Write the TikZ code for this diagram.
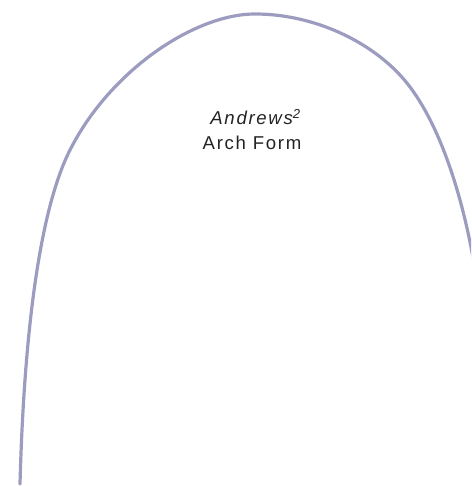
\documentclass[tikz,border=0pt]{standalone}
\usepackage{fontspec}
\setmainfont{Liberation Sans}
\newfontfamily\archfont[LetterSpace=9]{Liberation Sans}
\usetikzlibrary{positioning}
\definecolor{wire}{RGB}{156,156,192}
\definecolor{ink}{RGB}{35,35,35}
\tikzset{
  archwire/.style={draw=wire,line width=3.2pt,line cap=round},
  lbl/.style={font=\archfont\fontsize{18.6}{25}\selectfont,text=ink,align=center,inner sep=0pt},
}
\begin{document}
\begin{tikzpicture}[x=1pt,y=1pt]
  \useasboundingbox (0,0) rectangle (471,486);
  \clip (0,0) rectangle (471,486);
  % the wire, left end up over the top and out at the right edge
  \coordinate (leftend) at (20,2);
  \coordinate (leftbend) at (70,336);
  \coordinate (apex) at (255,472);
  \coordinate (rightbend) at (410,399);
  \coordinate (rightend) at (476,210);
  \draw[archwire] (leftend) .. controls (23,115) and (34,265) .. (leftbend)
    .. controls (110.5,416) and (195,472) .. (apex)
    .. controls (315,472) and (377,443) .. (rightbend)
    .. controls (446,351) and (467,270) .. (rightend);
  \node[lbl,anchor=base] (title) at (255.5,361) {\itshape Andrews\textsuperscript{2}};
  \node[lbl,anchor=base] (form) at (252,336) {Arch Form};
\end{tikzpicture}
\end{document}
